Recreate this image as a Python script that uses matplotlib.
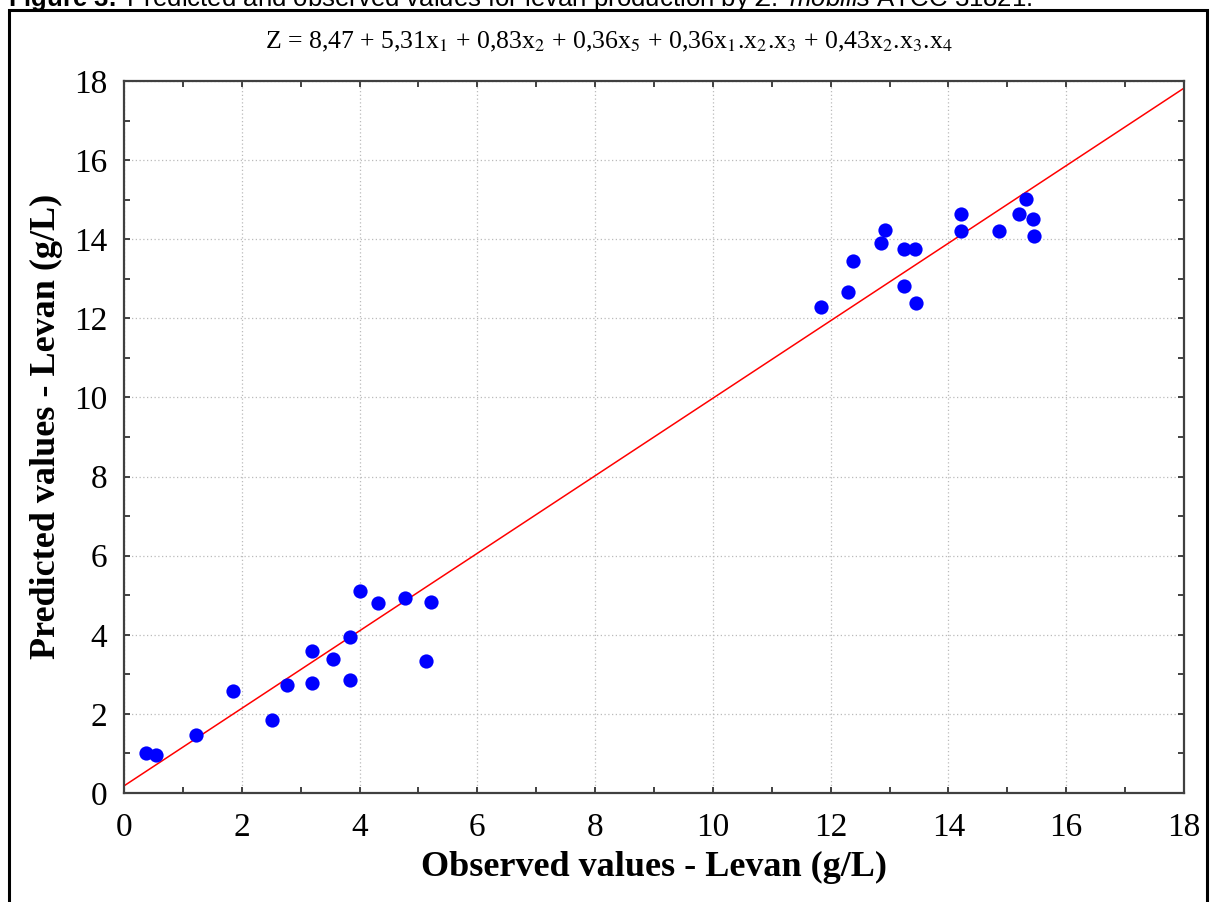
import numpy as np
import matplotlib
matplotlib.use('Agg')
import matplotlib.pyplot as plt
from matplotlib.patches import Rectangle
from matplotlib.ticker import MultipleLocator

# Observed vs predicted levan (g/L)
observed = [0.37, 0.54, 1.22, 1.85, 2.52, 2.77, 3.20, 3.20, 3.55, 3.84, 3.84,
            4.00, 4.31, 4.77, 5.13, 5.22,
            11.83, 12.30, 12.38, 12.85, 12.93, 13.24, 13.43, 13.24, 13.45,
            14.21, 14.21, 14.86, 15.20, 15.31, 15.43, 15.45]
predicted = [1.02, 0.95, 1.47, 2.58, 1.85, 2.73, 3.60, 2.77, 3.40, 3.95, 2.86,
             5.11, 4.81, 4.94, 3.34, 4.84,
             12.29, 12.67, 13.46, 13.90, 14.23, 13.76, 13.76, 12.82, 12.40,
             14.63, 14.21, 14.21, 14.63, 15.01, 14.51, 14.08]

# fitted line (intercept, slope)
fit_b0 = 0.18
fit_b1 = 0.98

x_label = 'Observed values - Levan (g/L)'
y_label = 'Predicted values - Levan (g/L)'
equation = (r'Z = 8,47 + 5,31x$_1$ + 0,83x$_2$ + 0,36x$_5$ + 0,36x$_1$.x$_2$.x$_3$'
            r' + 0,43x$_2$.x$_3$.x$_4$')
caption = (r'$\mathbf{Figure\ 3.}$ Predicted and observed values for levan production by '
           r'$\mathit{Z.\ mobilis}$ ATCC 31821.')

plt.rcParams['mathtext.fontset'] = 'custom'
plt.rcParams['mathtext.rm'] = 'Liberation Sans'
plt.rcParams['mathtext.bf'] = 'Liberation Sans:bold'
plt.rcParams['mathtext.it'] = 'Liberation Sans:italic'

W, H = 1213, 902
fig = plt.figure(figsize=(W / 100, H / 100), dpi=100)
ax = fig.add_axes([124 / W, 1 - 793 / H, (1184 - 124) / W, (793 - 81) / H])

# regression line
xl = np.array([0, 18])
ax.plot(xl, fit_b0 + fit_b1 * xl, color='#ff0000', lw=1.1, zorder=2)
ax.scatter(observed, predicted, s=105, color='#0000ff', zorder=3, linewidths=0)

ax.set_xlim(0, 18)
ax.set_ylim(0, 18)
for a in (ax.xaxis, ax.yaxis):
    a.set_major_locator(MultipleLocator(2))
    a.set_minor_locator(MultipleLocator(1))
ax.grid(which='major', color='#bbbbbb', linestyle=(0, (1, 2)), lw=0.9)
ax.tick_params(which='both', direction='in', top=True, right=True,
               width=1.3, color='#333333')
ax.tick_params(which='major', length=4, labelsize=24)
ax.tick_params(which='minor', length=4)
ax.tick_params(axis='x', which='major', pad=14)
ax.tick_params(axis='y', which='major', pad=12)
for lab in ax.get_xticklabels() + ax.get_yticklabels():
    lab.set_family('Liberation Serif')
for sp in ax.spines.values():
    sp.set_color('#404040')
    sp.set_linewidth(1.6)

ax.set_xlabel(x_label, family='Liberation Serif', fontweight='bold',
              fontsize=26, labelpad=6)
ax.set_ylabel(y_label, family='Liberation Serif', fontweight='bold',
              fontsize=26, labelpad=8)
ax.yaxis.label.set_y(0.515)

fig.text(609 / W, 1 - 42 / H, equation, family='Liberation Serif',
         fontsize=18.5, ha='center', va='center', math_fontfamily='stix')
fig.text(8 / W, 1 - 6 / H, caption, family='Liberation Sans',
         fontsize=18.5, ha='left', va='baseline')

# outer frame
fig.add_artist(Rectangle((9 / W, -0.05), (1207 - 9) / W, 1.05 - 10 / H,
                         transform=fig.transFigure, fill=False,
                         edgecolor='black', lw=2.2))

fig.savefig('out.png', dpi=100)
